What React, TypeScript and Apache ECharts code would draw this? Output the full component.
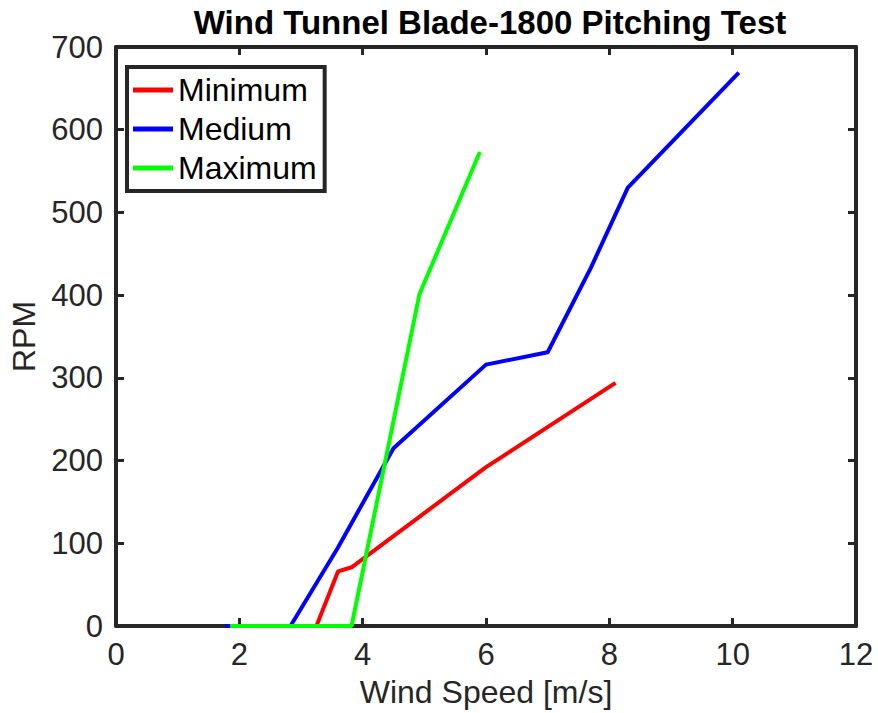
import React, { useEffect, useRef } from "react";
import * as echarts from "echarts";

const titleText = "Wind Tunnel Blade-1800 Pitching Test";
const xName = "Wind Speed [m/s]";
const yName = "RPM";
const seriesNames = ["Minimum", "Medium", "Maximum"];
const seriesColors = ["#ff0000", "#0000ff", "#00ff00"];

const minimumData: [number, number][] = [
  [3.25, 0],
  [3.6, 66],
  [3.82, 71],
  [6.0, 192],
  [8.1, 294],
];
const mediumData: [number, number][] = [
  [1.77, 0],
  [2.83, 0],
  [3.6, 95],
  [4.5, 215],
  [6.0, 316],
  [7.0, 331],
  [7.7, 433],
  [8.3, 530],
  [10.1, 669],
];
const maximumData: [number, number][] = [
  [1.85, 0],
  [3.82, 0],
  [4.92, 401],
  [5.9, 573],
];

const allData = [minimumData, mediumData, maximumData];

const AXIS_COLOR = "#262626";
const FONT = "'Liberation Sans', Arial, Helvetica, sans-serif";

export default function App() {
  const ref = useRef<HTMLDivElement>(null);

  useEffect(() => {
    if (!ref.current) return;
    const chart = echarts.init(ref.current, undefined, { renderer: "svg" });
    const axisLine = { show: true, onZero: false, lineStyle: { color: AXIS_COLOR, width: 4 } };
    const axisTick = { show: true, inside: true, length: 8, lineStyle: { color: AXIS_COLOR, width: 3 } };
    chart.setOption({
      animation: false,
      backgroundColor: "#ffffff",
      textStyle: { fontFamily: FONT },
      title: {
        text: titleText,
        left: 485,
        textAlign: "center",
        top: 1,
        textStyle: { fontFamily: FONT, fontWeight: "bold", fontSize: 33, color: "#000000" },
      },
      grid: { left: 114, right: 22, top: 47, bottom: 87, containLabel: false },
      legend: {
        data: seriesNames,
        left: 127,
        top: 67,
        orient: "vertical",
        icon: "rect",
        itemWidth: 40,
        itemHeight: 5,
        itemGap: 7,
        padding: [7, 8, 7, 6],
        borderColor: AXIS_COLOR,
        borderWidth: 4,
        backgroundColor: "#ffffff",
        textStyle: { fontFamily: FONT, fontSize: 32, color: "#000000", padding: [0, 0, 0, 0] },
      },
      xAxis: [
        {
          type: "value",
          min: 0,
          max: 12,
          interval: 2,
          name: xName,
          nameLocation: "middle",
          nameGap: 50,
          nameTextStyle: { fontFamily: FONT, fontSize: 32, color: AXIS_COLOR },
          axisLine,
          axisTick,
          splitLine: { show: false },
          axisLabel: { fontFamily: FONT, fontSize: 31, color: AXIS_COLOR, margin: 13 },
        },
        {
          type: "value",
          position: "top",
          min: 0,
          max: 12,
          interval: 2,
          axisLine,
          axisTick,
          splitLine: { show: false },
          axisLabel: { show: false },
        },
      ],
      yAxis: [
        {
          type: "value",
          position: "left",
          min: 0,
          max: 700,
          interval: 100,
          name: yName,
          nameLocation: "middle",
          nameGap: 76,
          nameTextStyle: { fontFamily: FONT, fontSize: 32, color: AXIS_COLOR },
          axisLine,
          axisTick,
          splitLine: { show: false },
          axisLabel: { fontFamily: FONT, fontSize: 31, color: AXIS_COLOR, margin: 13 },
        },
        {
          type: "value",
          position: "right",
          min: 0,
          max: 700,
          interval: 100,
          axisLine,
          axisTick,
          splitLine: { show: false },
          axisLabel: { show: false },
        },
      ],
      series: seriesNames.map((name, i) => ({
        name,
        type: "line",
        data: allData[i],
        xAxisIndex: 0,
        yAxisIndex: 0,
        symbol: "none",
        color: seriesColors[i],
        lineStyle: { color: seriesColors[i], width: 4 },
        clip: false,
      })),
    });
    return () => chart.dispose();
  }, []);

  return (
    <div
      ref={ref}
      style={{ position: "fixed", left: 0, top: 0, width: 878, height: 713, background: "#fff" }}
    />
  );
}
